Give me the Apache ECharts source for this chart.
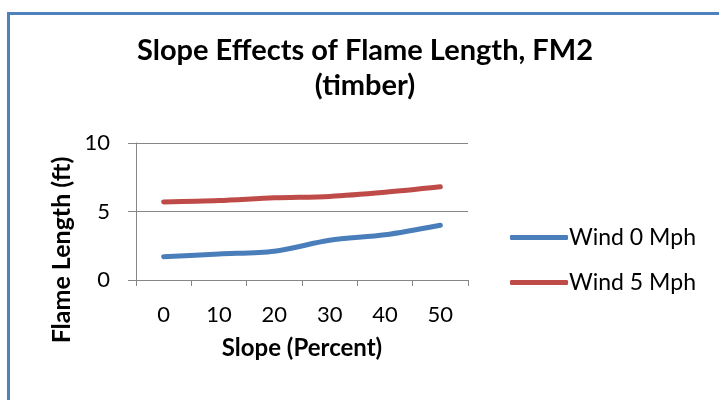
<!DOCTYPE html>
<html>
<head>
<meta charset="utf-8">
<script src="https://cdn.jsdelivr.net/npm/echarts@6/dist/echarts.min.js"></script>
<style>
  html, body { margin: 0; padding: 0; background: #fff; }
  #chart { width: 719px; height: 400px; }
</style>
</head>
<body>
<div id="chart"></div>
<script>
// Slope (percent) categories and flame length (ft) per wind speed
const slopeCategories = ['0', '10', '20', '30', '40', '50'];
const wind0Mph = [1.7, 1.9, 2.1, 2.9, 3.3, 4.0];
const wind5Mph = [5.7, 5.8, 6.0, 6.1, 6.4, 6.8];
const yTicks = [0, 5, 10];

const FONT = 'Lato, "Open Sans", sans-serif';
const chart = echarts.init(document.getElementById('chart'));

chart.setOption({
  backgroundColor: '#ffffff',
  animation: false,
  graphic: [
    {
      // outer frame of the chart area
      type: 'rect',
      shape: { x: 8.5, y: 13.5, width: 760, height: 440 },
      style: { fill: 'none', stroke: '#4f81bd', lineWidth: 3 },
      silent: true
    },
    {
      // vertical axis title
      type: 'text',
      x: 62,
      y: 250,
      rotation: Math.PI / 2,
      style: {
        text: 'Flame Length (ft)',
        fontFamily: FONT,
        fontWeight: 'bold',
        fontSize: 25,
        fill: '#000',
        align: 'center',
        verticalAlign: 'middle'
      },
      silent: true
    }
  ],
  title: {
    text: 'Slope Effects of Flame Length, FM2\n(timber)',
    left: 360,
    textAlign: 'center',
    top: 28,
    textStyle: {
      fontFamily: FONT,
      fontWeight: 'bold',
      fontSize: 29,
      lineHeight: 35,
      color: '#000'
    }
  },
  legend: {
    orient: 'vertical',
    left: 505,
    top: 221,
    itemWidth: 58,
    itemHeight: 5,
    itemGap: 22,
    icon: 'roundRect',
    textStyle: { fontFamily: FONT, fontSize: 23, color: '#000', padding: [0, 0, 0, -4] },
    data: ['Wind 0 Mph', 'Wind 5 Mph']
  },
  grid: { left: 136, top: 143, width: 332, height: 137, containLabel: false },
  xAxis: {
    type: 'category',
    data: slopeCategories,
    boundaryGap: true,
    name: 'Slope (Percent)',
    nameLocation: 'middle',
    nameGap: 56,
    nameTextStyle: { fontFamily: FONT, fontWeight: 'bold', fontSize: 24, color: '#000' },
    axisLine: { lineStyle: { color: '#868686', width: 1 } },
    axisTick: { show: true, length: 6, lineStyle: { color: '#868686' } },
    axisLabel: { fontFamily: FONT, fontSize: 22, color: '#000', margin: 24 }
  },
  yAxis: {
    type: 'value',
    min: yTicks[0],
    max: yTicks[yTicks.length - 1],
    interval: 5,
    axisLine: { show: true, lineStyle: { color: '#868686', width: 1 } },
    axisTick: { show: true, length: 8, lineStyle: { color: '#868686' } },
    axisLabel: { fontFamily: FONT, fontSize: 22, color: '#000', margin: 26 },
    splitLine: { show: true, lineStyle: { color: '#868686', width: 1 } }
  },
  series: [
    {
      name: 'Wind 0 Mph',
      type: 'line',
      data: wind0Mph,
      smooth: 0.3,
      symbol: 'none',
      lineStyle: { color: '#4a7ebb', width: 5, cap: 'round' },
      itemStyle: { color: '#4a7ebb' }
    },
    {
      name: 'Wind 5 Mph',
      type: 'line',
      data: wind5Mph,
      smooth: 0.3,
      symbol: 'none',
      lineStyle: { color: '#be4b48', width: 5, cap: 'round' },
      itemStyle: { color: '#be4b48' }
    }
  ]
});
</script>
</body>
</html>
